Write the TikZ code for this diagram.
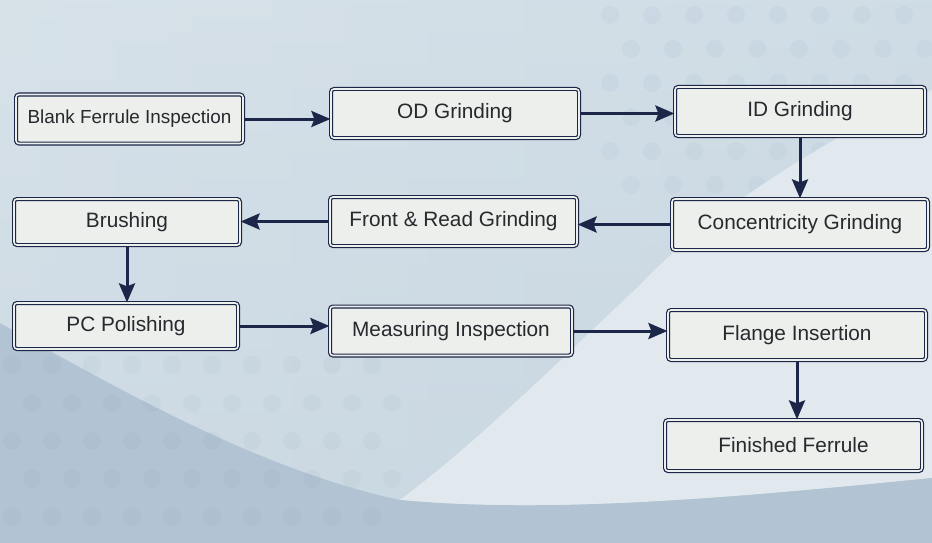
\documentclass[tikz,border=0pt]{standalone}
\usepackage{fontspec}
\setmainfont{Liberation Sans}
\usetikzlibrary{arrows.meta,calc}
\definecolor{navy}{HTML}{1C2648}
\definecolor{boxfill}{HTML}{EDEFEC}
\definecolor{txt}{HTML}{26292D}
\definecolor{bgtop}{HTML}{CAD9E3}
\definecolor{bgmid}{HTML}{C0D0DD}
\definecolor{bglight}{HTML}{E2E9EE}
\definecolor{bgdark}{HTML}{B2C4D3}
\definecolor{dotc}{HTML}{A6BBCE}
\tikzset{
  stepbox/.style={draw=navy, line width=1.2pt, double=boxfill, double distance=1.6pt,
    fill=boxfill, rounded corners=3pt, minimum height=49pt, text=txt,
    font=\fontsize{20.8}{24}\selectfont, inner sep=0pt},
  arr/.style={draw=navy, line width=3pt, -{Stealth[length=19pt,width=16pt,inset=3pt]}}
}
\begin{document}
\begin{tikzpicture}[x=1pt,y=-1pt]
\useasboundingbox (0,0) rectangle (932,543);
% background
\shade[top color=bglight!60!bgtop, bottom color=bgmid] (0,0) rectangle (932,543);
\shade[left color=bglight!50!bgtop, right color=bgtop, opacity=0.6] (0,0) rectangle (932,543);
% dots top right
\foreach \i in {0,...,7}{
  \foreach \j in {0,...,5}{
    \fill[dotc, opacity=0.15] ({610+\i*42+mod(\j,2)*21},{15+\j*34}) circle (9);
  }
}
% white swoosh
\fill[bglight] (932,90) .. controls (820,140) and (700,220) .. (640,285)
  .. controls (560,360) and (480,440) .. (400,500)
  .. controls (560,515) and (760,495) .. (932,478) -- cycle;
% dark lower left
\fill[bgdark] (0,323) .. controls (120,390) and (260,470) .. (400,500)
  .. controls (560,515) and (760,495) .. (932,478) -- (932,543) -- (0,543) -- cycle;
\foreach \i in {0,...,9}{
  \foreach \j in {0,...,4}{
    \fill[dotc!80!black, opacity=0.07] ({12+\i*40+mod(\j,2)*20},{365+\j*38}) circle (9);
  }
}
% nodes
\node[stepbox, minimum width=227pt, font=\fontsize{18.9}{22}\selectfont] (n1) at (129.5,119) {Blank Ferrule Inspection};
\node[stepbox, minimum width=248pt] (n2) at (455,113.5) {OD Grinding};
\node[stepbox, minimum width=250pt] (n3) at (800,111.5) {ID Grinding};
\node[stepbox, minimum width=256pt, minimum height=51pt] (n4) at (800,224.5) {Concentricity Grinding};
\node[stepbox, minimum width=247pt] (n5) at (453.5,221.5) {Front \& Read Grinding};
\node[stepbox, minimum width=226pt, minimum height=46pt] (n6) at (127,222) {Brushing};
\node[stepbox, minimum width=224pt, minimum height=46pt] (n7) at (126,326) {PC Polishing};
\node[stepbox, minimum width=242pt] (n8) at (451,331) {Measuring Inspection};
\node[stepbox, minimum width=258pt, minimum height=50pt] (n9) at (797,335) {Flange Insertion};
\node[stepbox, minimum width=257pt, minimum height=51pt] (n10) at (793.5,445.5) {Finished Ferrule};
% connectors
\draw[arr] (n1.east) -- (n1.east -| n2.west);
\draw[arr] (n2.east) -- (n2.east -| n3.west);
\draw[arr] (n3.south) -- (n3.south |- n4.north);
\draw[arr] (n4.west) -- (n4.west -| n5.east);
\draw[arr] (n5.west) -- (n5.west -| n6.east);
\draw[arr] (n6.south) -- (n6.south |- n7.north);
\draw[arr] (n7.east) -- (n7.east -| n8.west);
\draw[arr] (n8.east) -- (n8.east -| n9.west);
\draw[arr] (n9.south) -- (n9.south |- n10.north);
\end{tikzpicture}
\end{document}
